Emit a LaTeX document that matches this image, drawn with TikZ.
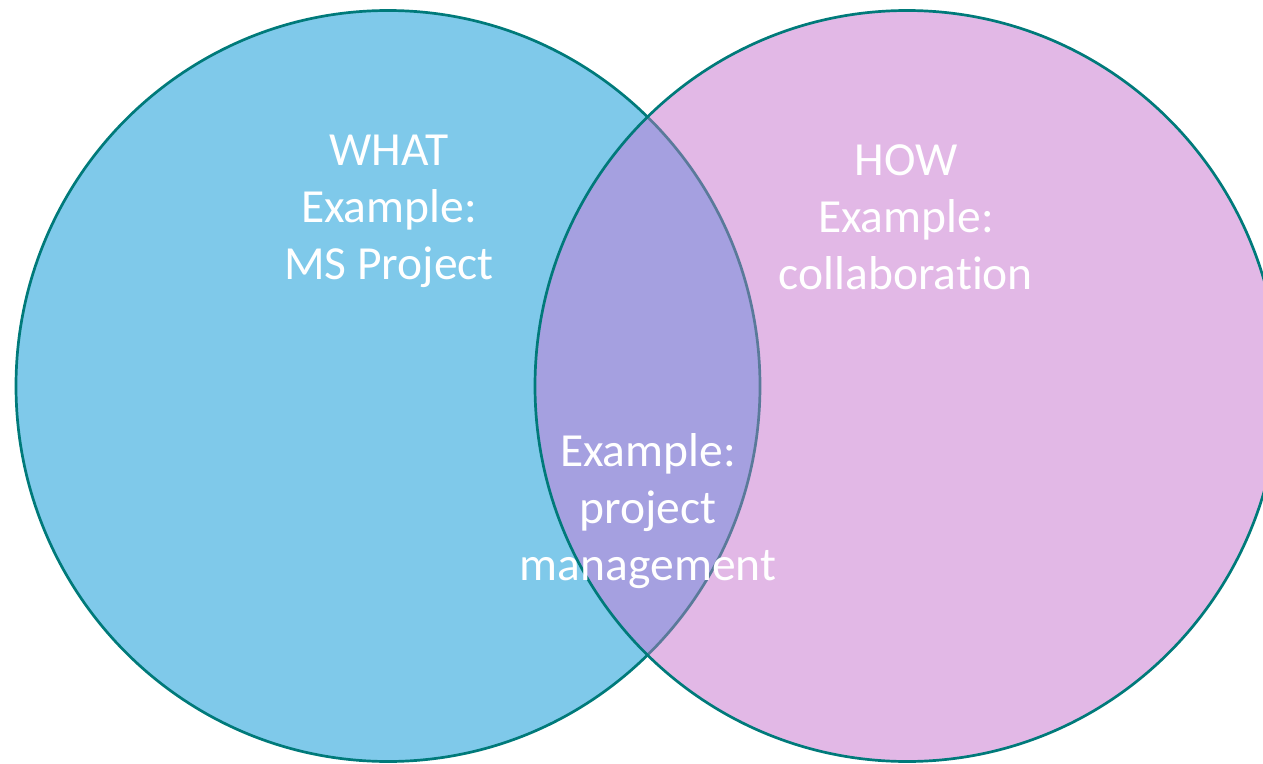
\documentclass[tikz,border=0pt]{standalone}
\usepackage{fontspec}
\setmainfont{Carlito}[Ligatures={NoCommon}]
\definecolor{lblue}{RGB}{127,201,234}
\definecolor{lpink}{RGB}{226,184,230}
\definecolor{lpurp}{RGB}{165,160,224}
\definecolor{rim}{RGB}{0,122,122}
\definecolor{rimdim}{RGB}{90,122,154}
\begin{document}
\begin{tikzpicture}[x=1bp,y=-1bp,
  lbl/.style={text=white, align=center, font=\fontsize{47.7}{57.2}\selectfont, inner sep=0pt, anchor=base},
  rimline/.style={line width=2.7bp}]
\useasboundingbox (0,0) rectangle (1263,764);
\coordinate (L) at (388,386);
\coordinate (R) at (907,386);
\tikzset{venn/.style={x radius=372, y radius=375.5}}
\begin{scope}
  \clip (0,0) rectangle (1263,764);
  \fill[lblue] (L) ellipse [venn];
  \draw[rim, rimline] (L) ellipse [venn];
  \fill[lpink] (R) ellipse [venn];
  \begin{scope}
    \clip (L) ellipse [venn];
    \fill[lpurp] (R) ellipse [venn];
  \end{scope}
  \begin{scope}
    \clip (R) ellipse [venn];
    \draw[rimdim, rimline] (L) ellipse [venn];
  \end{scope}
  \draw[rim, rimline] (R) ellipse [venn];
\end{scope}
\node[lbl] (what) at (389,279) {WHAT\\Example:\\MS Project};
\node[lbl] (how) at (906,289) {HOW\\Example:\\collaboration};
\node[lbl] (both) at (648,580) {Example:\\project\\management};
\end{tikzpicture}
\end{document}
